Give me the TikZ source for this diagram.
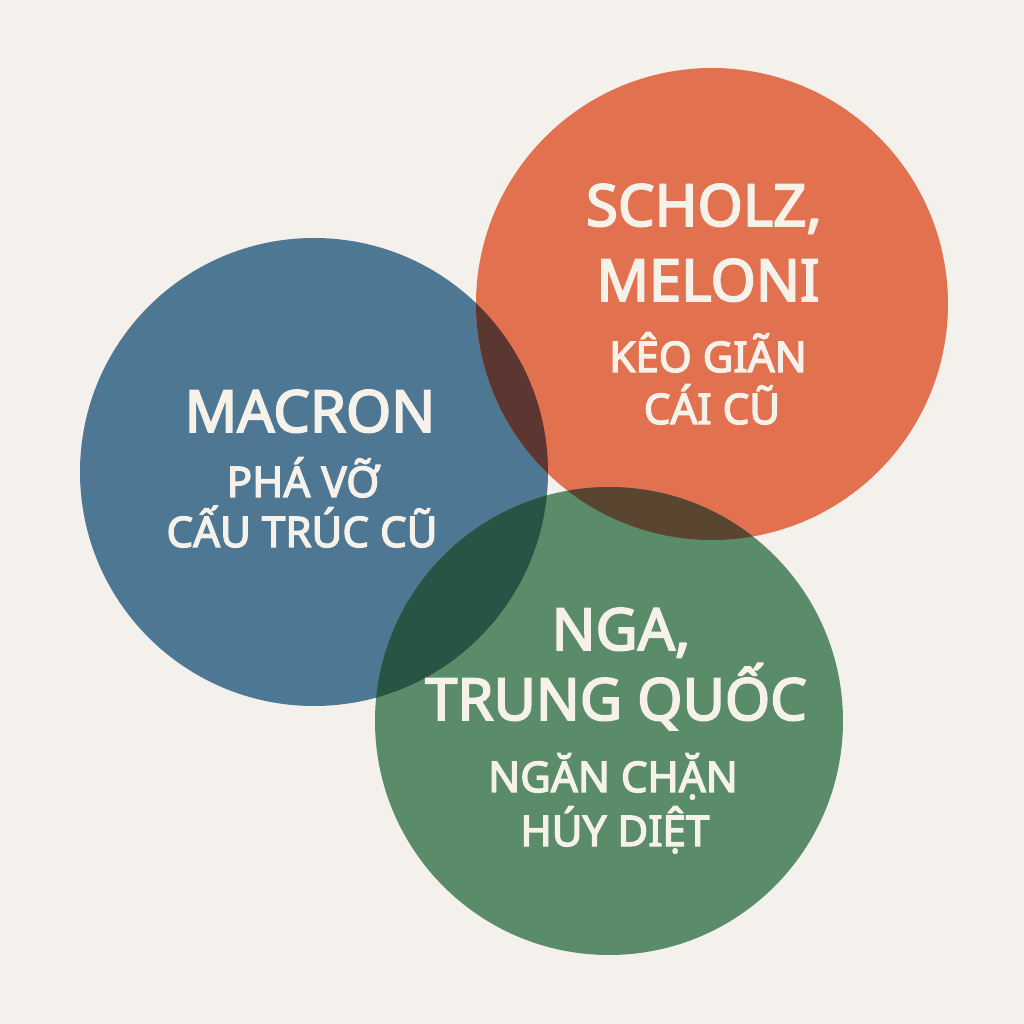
\documentclass[tikz,border=0pt]{standalone}
\usepackage{fontspec}
\setmainfont{Noto Sans}[BoldFont={Noto Sans},BoldFeatures={FakeBold=3.2}]
\usepackage{tikz}

\definecolor{paper}{HTML}{F4F1EC}
\definecolor{macblue}{HTML}{4E7793}
\definecolor{eurored}{HTML}{E2714F}
\definecolor{eastgreen}{HTML}{5B8C6A}
\definecolor{blueredmix}{HTML}{5C3630}
\definecolor{bluegreenmix}{HTML}{275445}
\definecolor{redgreenmix}{HTML}{5A4530}
\definecolor{inkwhite}{HTML}{F6F2EA}

\begin{document}
\begin{tikzpicture}[
    who/.style={text=inkwhite, anchor=base, font=\fontsize{16.5}{19}\selectfont\bfseries},
    role/.style={text=inkwhite, anchor=base, font=\fontsize{12}{14}\selectfont\bfseries},
  ]
  \fill[paper] (0,0) rectangle (10.24,10.24);
  \useasboundingbox (0,0) rectangle (10.24,10.24);

  % the three circles
  \coordinate (cblue) at (3.14,5.52);
  \coordinate (cred) at (7.12,7.20);
  \coordinate (cgreen) at (6.09,3.03);
  \fill[macblue] (cblue) circle (2.34);
  \fill[eurored] (cred) circle (2.36);
  \fill[eastgreen] (cgreen) circle (2.34);

  % overlaps
  \begin{scope}
    \clip (cblue) circle (2.34);
    \fill[blueredmix] (cred) circle (2.36);
  \end{scope}
  \begin{scope}
    \clip (cblue) circle (2.34);
    \fill[bluegreenmix] (cgreen) circle (2.34);
  \end{scope}
  \begin{scope}
    \clip (cred) circle (2.36);
    \fill[redgreenmix] (cgreen) circle (2.34);
  \end{scope}

  % labels
  \node[who] (macron) at (3.10,5.92) {MACRON};
  \node[role] (pha) at (3.03,5.27) {PHÁ VỠ};
  \node[role] (cautruc) at (3.02,4.77) {CẤU TRÚC CŨ};

  \node[who] (scholz) at (7.04,7.98) {SCHOLZ,};
  \node[who] (meloni) at (7.08,7.23) {MELONI};
  \node[role] (keo) at (7.08,6.52) {KÊO GIÃN};
  \node[role] (caicu) at (7.12,6.00) {CÁI CŨ};

  \node[who] (nga) at (6.21,3.74) {NGA,};
  \node[who] (tq) at (6.16,3.04) {TRUNG QUỐC};
  \node[role] (nganchan) at (6.13,2.32) {NGĂN CHẶN};
  \node[role] (huydiet) at (6.15,1.78) {HÚY DIỆT};
\end{tikzpicture}
\end{document}
